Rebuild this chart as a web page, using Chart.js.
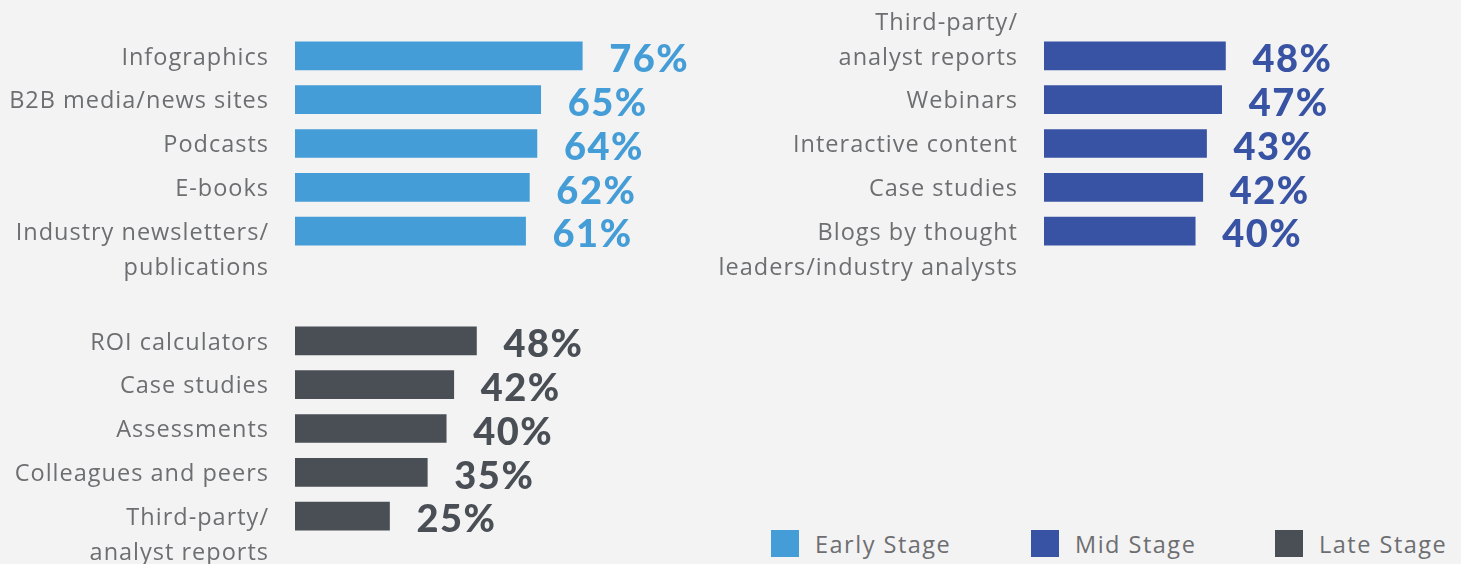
<!DOCTYPE html>
<html>
<head>
<meta charset="utf-8">
<script src="https://cdn.jsdelivr.net/npm/chart.js@4"></script>
<style>
  html, body { margin: 0; padding: 0; background: #f3f3f3; }
  #wrap { position: relative; width: 1461px; height: 564px; overflow: hidden; }
  canvas { position: absolute; }
  .legend { position: absolute; top: 530px; height: 28px; font-family: "Open Sans", sans-serif; font-size: 23.5px; color: #6d6e71; line-height: 28px; white-space: nowrap; }
  .legend span.box { position: absolute; left: 0; top: 0; width: 28px; height: 27px; }
  .legend span.txt { position: absolute; left: 44px; top: 0px; letter-spacing: 1.5px; }
</style>
</head>
<body>
<div id="wrap">
  <canvas id="earlyChart"></canvas>
  <canvas id="midChart"></canvas>
  <canvas id="lateChart"></canvas>
</div>
<script>
// Data
const earlyLabels = ['Infographics', 'B2B media/news sites', 'Podcasts', 'E-books', ['Industry newsletters/', 'publications']];
const earlyValues = [76, 65, 64, 62, 61];

const midLabels = [['Third-party/', 'analyst reports'], 'Webinars', 'Interactive content', 'Case studies', ['Blogs by thought', 'leaders/industry analysts']];
const midValues = [48, 47, 43, 42, 40];

const lateLabels = ['ROI calculators', 'Case studies', 'Assessments', 'Colleagues and peers', ['Third-party/', 'analyst reports']];
const lateValues = [48, 42, 40, 35, 25];

const stageNames = ['Early Stage', 'Mid Stage', 'Late Stage'];
const stageColors = ['#449dd6', '#3953a4', '#4a4e55'];

const labelColor = '#6d6e71';
const labelFont = '23.5px "Open Sans", sans-serif';
const valueFont = '900 38px Lato, "Open Sans", sans-serif';

// draws category labels on the left and values at bar ends
const barTextPlugin = {
    id: 'barText',
    afterDatasetsDraw(chart) {
        const ctx = chart.ctx;
        const meta = chart.getDatasetMeta(0);
        const area = chart.chartArea;
        const labels = chart.data.labels;
        const color = chart.data.datasets[0].backgroundColor;
        ctx.save();
        ctx.textBaseline = 'middle';
        meta.data.forEach((bar, i) => {
            // category label
            ctx.font = labelFont;
            ctx.fillStyle = labelColor;
            ctx.textAlign = 'right';
            ctx.letterSpacing = '1px';
            const lines = Array.isArray(labels[i]) ? labels[i] : [labels[i]];
            const lineH = 35;
            // first item wraps upward, others wrap downward
            const startY = i === 0 ? bar.y - (lines.length - 1) * lineH : bar.y;
            lines.forEach((line, j) => {
                ctx.fillText(line, area.left - 26, startY + j * lineH + 2);
            });
            // value label
            ctx.letterSpacing = '1.5px';
            ctx.font = valueFont;
            ctx.fillStyle = color;
            ctx.textAlign = 'left';
            ctx.fillText(chart.data.datasets[0].data[i] + '%', bar.x + 27, bar.y + 4);
        });
        ctx.restore();
    }
};

function makeChart(id, box, labels, values, color, padding) {
    const canvas = document.getElementById(id);
    canvas.style.left = box.left + 'px';
    canvas.style.top = box.top + 'px';
    canvas.width = box.width;
    canvas.height = box.height;
    canvas.style.width = box.width + 'px';
    canvas.style.height = box.height + 'px';
    return new Chart(canvas, {
        type: 'bar',
        data: {
            labels: labels,
            datasets: [{
                data: values,
                backgroundColor: color,
                borderWidth: 0,
                barThickness: 28
            }]
        },
        options: {
            indexAxis: 'y',
            responsive: false,
            animation: false,
            layout: { padding: padding },
            plugins: {
                legend: { display: false },
                tooltip: { enabled: false }
            },
            scales: {
                x: { display: false, min: 0, max: 100 },
                y: { display: false, offset: true }
            }
        },
        plugins: [barTextPlugin]
    });
}

makeChart('earlyChart', { left: 0, top: 0, width: 720, height: 290 },
    earlyLabels, earlyValues, stageColors[0], { left: 295, right: 47, top: 34, bottom: 37 });
makeChart('midChart', { left: 720, top: 0, width: 741, height: 290 },
    midLabels, midValues, stageColors[1], { left: 324, right: 39, top: 34, bottom: 37 });
makeChart('lateChart', { left: 0, top: 290, width: 720, height: 274 },
    lateLabels, lateValues, stageColors[2], { left: 295, right: 47, top: 29, bottom: 26 });

// legend
const legendLeft = [771, 1031, 1275];
const wrap = document.getElementById('wrap');
stageNames.forEach((name, i) => {
    const item = document.createElement('div');
    item.className = 'legend';
    item.style.left = legendLeft[i] + 'px';
    item.innerHTML = `<span class="box" style="background:${stageColors[i]}"></span><span class="txt">${name}</span>`;
    wrap.appendChild(item);
});
</script>
</body>
</html>
